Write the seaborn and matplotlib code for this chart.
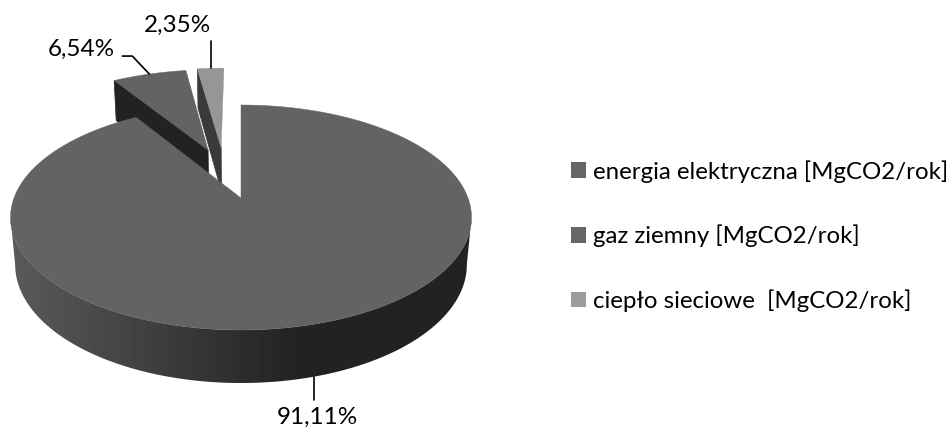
import numpy as np
import matplotlib
matplotlib.use("Agg")
import matplotlib.pyplot as plt
from matplotlib.patches import Patch, Polygon
import seaborn as sns

# udzial emisji CO2 wg nosnika
nosniki = ["energia elektryczna [MgCO2/rok]", "gaz ziemny [MgCO2/rok]", "ciepło sieciowe  [MgCO2/rok]"]
udzialy = [91.11, 6.54, 2.35]
etykiety = ["91,11%", "6,54%", "2,35%"]

sns.set_theme(style="white")
plt.rcParams["font.family"] = ["Lato", "DejaVu Sans"]

kolory_gora = ["#636363", "#636363", "#969696"]
kolory_bok = ["#222222", "#222222", "#3a3a3a"]
kolory_legenda = ["#666666", "#666666", "#9c9c9c"]

# wysuniecie wycinkow (w jednostkach promienia)
wysuniecie = [(0.0, 0.0), (-0.157, 0.476), (-0.095, 0.50)]


# rzut perspektywiczny kola na obraz, z=1 to spod placka
def rzut(x, y, z=0.0):
    w = 1 + 0.1733 * y + 0.02 * z
    return 241 + 227 * x / w, (198 - 74.8 * y + 51.5 * z) / w


def punkty(a0, a1, n=600):
    kat = np.radians(np.linspace(a0, a1, n))
    return np.sin(kat), np.cos(kat)


fig, ax = plt.subplots(figsize=(9.52, 4.28), dpi=100)
ax.set_position([0, 0, 1, 1])
ax.axis("off")

granice = np.cumsum([0] + udzialy) / sum(udzialy) * 360

for i in [2, 1, 0]:
    a0, a1 = granice[i], granice[i + 1]
    dx, dy = wysuniecie[i]
    x, y = punkty(a0, a1)
    x = x + dx
    y = y + dy

    if i > 0:
        # lewa sciana wyciecia widoczna dla wysunietych wycinkow
        gorax, goray = rzut(np.array([dx, x[0]]), np.array([dy, y[0]]))
        dolx, doly = rzut(np.array([x[0], dx]), np.array([y[0], dy]), 1)
        ax.fill(np.r_[gorax, dolx], np.r_[goray, doly], color=kolory_bok[i], lw=0.5)
    else:
        # bok placka z gradientem przycietym do obrysu (od skrajnych punktow elipsy)
        tx, ty = rzut(x, y)
        bx, by = rzut(x, y, 1)
        t0, t1 = np.argmax(tx), np.argmin(tx)
        b0, b1 = np.argmax(bx), np.argmin(bx)
        ox = np.r_[tx[t0:t1 + 1], bx[b0:b1 + 1][::-1]]
        oy = np.r_[ty[t0:t1 + 1], by[b0:b1 + 1][::-1]]
        obrys = Polygon(np.c_[ox, oy], transform=ax.transData, fc="none", ec="none")
        ax.add_patch(obrys)
        gradient = np.clip(1 - (np.arange(952) + 0.5 - 12) / 288, 0, 1)
        szary = (0x22 + (0x5a - 0x22) * gradient) / 255
        obraz = ax.imshow(szary[np.newaxis, :], cmap="gray", vmin=0, vmax=1, extent=(0, 952, 428, 0), aspect="auto")
        obraz.set_clip_path(obrys)

    gx, gy = rzut(np.r_[dx, x], np.r_[dy, y])
    ax.fill(gx, gy, color=kolory_gora[i], lw=0.3)

# linie odniesienia i etykiety
srodek = (granice[:-1] + granice[1:]) / 2
for i, a in enumerate(srodek):
    mx, my = np.sin(np.radians(a)) + wysuniecie[i][0], np.cos(np.radians(a)) + wysuniecie[i][1]
    if i == 0:
        px, py = rzut(mx, my, 1)
        ax.plot([px, px], [py, py + 23], color="black", lw=1.2)
        ax.text(px + 3, py + 41, etykiety[i], ha="center", va="center", fontsize=17.5, color="black")
    elif i == 1:
        px, py = rzut(mx, my)
        ax.plot([px, px - 17, px - 27], [py, py - 18, py - 18], color="black", lw=1.2)
        ax.text(px - 34, py - 25, etykiety[i], ha="right", va="center", fontsize=17.5, color="black")
    else:
        px, py = rzut(mx, my)
        ax.plot([px, px], [py, py - 27], color="black", lw=1.2)
        ax.text(px - 33, py - 43, etykiety[i], ha="center", va="center", fontsize=17.5, color="black")

ax.set_xlim(0, 952)
ax.set_ylim(428, 0)

uchwyty = [Patch(facecolor=k, edgecolor="none") for k in kolory_legenda]
ax.legend(uchwyty, nosniki, loc="center left", bbox_to_anchor=(571 / 952, 1 - 236 / 428), frameon=False,
          fontsize=17.3, handlelength=0.63, handleheight=0.63, handletextpad=0.28, labelspacing=1.75,
          borderaxespad=0, borderpad=0, labelcolor="black")

fig.savefig("out.png", dpi=100)
